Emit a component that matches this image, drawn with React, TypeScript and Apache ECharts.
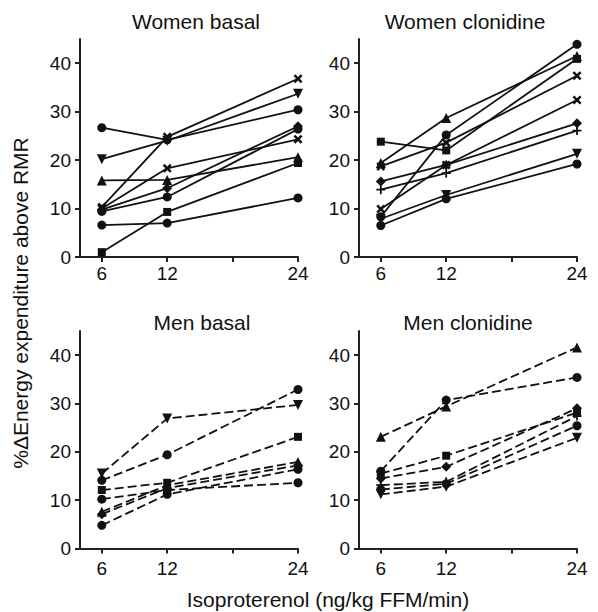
import React, { useEffect, useRef } from "react";
import * as echarts from "echarts";

// ---- data ----
const doses = [6, 12, 24];
const xTickValues = [6, 12, 18, 24];
const xLabelValues = [6, 12, 24];
const yTickValues = [0, 10, 20, 30, 40];

const panelTitles = ["Women basal", "Women clonidine", "Men basal", "Men clonidine"];

const womenBasal = [
  [26.7, 24.2, 30.4],
  [20.2, 24.0, 33.7],
  [15.8, 15.9, 20.6],
  [10.3, 24.8, 36.8],
  [10.0, 18.3, 24.3],
  [9.8, 14.2, 27.0],
  [9.4, 12.4, 26.4],
  [1.0, 9.3, 19.4],
  [6.6, 7.0, 12.2],
];
const womenBasalMarkers = ["circle", "down", "triangle", "x", "x", "diamond", "circle", "square", "circle"];

const womenClonidine = [
  [23.8, 22.0, 40.9],
  [19.4, 28.7, 41.5],
  [18.7, 23.6, 37.4],
  [15.6, 19.0, 27.6],
  [13.9, 17.3, 26.1],
  [9.9, 19.0, 32.4],
  [8.3, 25.2, 43.9],
  [7.9, 12.8, 21.3],
  [6.5, 12.0, 19.2],
];
const womenClonidineMarkers = ["square", "triangle", "x", "diamond", "plus", "x", "circle", "down", "circle"];

const menBasal = [
  [15.5, 26.9, 29.7],
  [14.1, 19.4, 32.9],
  [12.1, 13.6, 23.1],
  [10.2, 12.1, 13.6],
  [7.6, 13.1, 17.9],
  [7.1, 12.5, 17.2],
  [4.8, 11.2, 16.4],
];
const menBasalMarkers = ["down", "circle", "square", "circle", "triangle", "diamond", "circle"];

const menClonidine = [
  [23.1, 29.4, 41.6],
  [16.0, 30.7, 35.4],
  [15.5, 19.2, 28.1],
  [14.5, 16.9, 29.0],
  [13.1, 13.8, 27.4],
  [12.2, 13.4, 25.4],
  [11.2, 12.8, 22.9],
];
const menClonidineMarkers = ["triangle", "circle", "square", "diamond", "plus", "circle", "down"];

const xAxisTitle = "Isoproterenol (ng/kg FFM/min)";
const yAxisTitle = "%ΔEnergy expenditure above RMR";

// ---- styling / layout ----
const FONT = "'Liberation Sans', Arial, Helvetica, sans-serif";
const INK = "#111";

const grids = [
  { left: 80, top: 39, width: 218, height: 218 },
  { left: 359, top: 39, width: 218, height: 218 },
  { left: 80, top: 331, width: 218, height: 217.5 },
  { left: 359, top: 331, width: 218, height: 217.5 },
];
const titlePos = [
  { x: 196, y: 21 },
  { x: 465, y: 21 },
  { x: 202, y: 322 },
  { x: 468, y: 322 },
];

const SYMBOLS: Record<string, { symbol: string; size: number; rotate?: number }> = {
  circle: { symbol: "circle", size: 9 },
  square: { symbol: "rect", size: 8 },
  triangle: { symbol: "triangle", size: 10 },
  down: { symbol: "triangle", size: 10, rotate: 180 },
  diamond: { symbol: "diamond", size: 10 },
  x: {
    symbol: "path://M0,2L2,0L5,3L8,0L10,2L7,5L10,8L8,10L5,7L2,10L0,8L3,5Z",
    size: 9,
  },
  plus: { symbol: "path://M4,0H6V4H10V6H6V10H4V6H0V4H4Z", size: 9 },
};

function buildSeries(rows: number[][], markers: string[], idx: number, dashed: boolean) {
  return rows.map((vals, i) => {
    const s = SYMBOLS[markers[i]] || SYMBOLS.circle;
    return {
      type: "line",
      xAxisIndex: idx,
      yAxisIndex: idx,
      data: doses.map((d, j) => [d, vals[j]]),
      symbol: s.symbol,
      symbolSize: s.size,
      symbolRotate: s.rotate || 0,
      showSymbol: true,
      lineStyle: { color: INK, width: 1.8, type: dashed ? [9, 4] : "solid" },
      itemStyle: { color: INK, borderWidth: 0 },
      emphasis: { disabled: true },
      z: 3,
    };
  });
}

export default function App() {
  const ref = useRef<HTMLDivElement>(null);

  useEffect(() => {
    if (!ref.current) return;
    const chart = echarts.init(ref.current, null, { renderer: "svg" });

    const xAxes = grids.map((_, i) => ({
      type: "value",
      gridIndex: i,
      min: 4,
      max: 24,
      splitLine: { show: false },
      axisLine: { show: true, lineStyle: { color: "#222", width: 2 } },
      axisTick: {
        show: true,
        length: 5,
        lineStyle: { color: "#222", width: 2 },
        customValues: xTickValues,
      },
      axisLabel: {
        customValues: xLabelValues,
        color: INK,
        fontSize: 19,
        fontFamily: FONT,
        margin: i < 2 ? 7 : 10,
      },
    }));

    const yAxes = grids.map((_, i) => ({
      type: "value",
      gridIndex: i,
      min: 0,
      max: 45,
      splitLine: { show: false },
      axisLine: { show: true, lineStyle: { color: "#222", width: 2 } },
      axisTick: {
        show: true,
        length: 5,
        lineStyle: { color: "#222", width: 2 },
        customValues: yTickValues,
      },
      axisLabel: {
        customValues: yTickValues,
        color: INK,
        fontSize: 19,
        fontFamily: FONT,
        margin: 9,
      },
    }));

    const graphics: any[] = panelTitles.map((t, i) => ({
      type: "text",
      x: titlePos[i].x,
      y: titlePos[i].y,
      style: {
        text: t,
        fill: INK,
        font: `21px ${FONT}`,
        align: "center",
        verticalAlign: "middle",
      },
    }));
    graphics.push({
      type: "text",
      x: 328,
      y: 599,
      style: {
        text: xAxisTitle,
        fill: INK,
        font: `21px ${FONT}`,
        align: "center",
        verticalAlign: "middle",
      },
    });
    graphics.push({
      type: "text",
      x: 20,
      y: 303,
      rotation: Math.PI / 2,
      style: {
        text: yAxisTitle,
        fill: INK,
        font: `21px ${FONT}`,
        align: "center",
        verticalAlign: "middle",
      },
    });

    chart.setOption({
      animation: false,
      backgroundColor: "#fff",
      grid: grids,
      xAxis: xAxes,
      yAxis: yAxes,
      graphic: graphics,
      series: [
        ...buildSeries(womenBasal, womenBasalMarkers, 0, false),
        ...buildSeries(womenClonidine, womenClonidineMarkers, 1, false),
        ...buildSeries(menBasal, menBasalMarkers, 2, true),
        ...buildSeries(menClonidine, menClonidineMarkers, 3, true),
      ],
    });

    return () => chart.dispose();
  }, []);

  return (
    <div
      ref={ref}
      style={{ position: "fixed", left: 0, top: 0, width: 598, height: 612, background: "#fff" }}
    />
  );
}
